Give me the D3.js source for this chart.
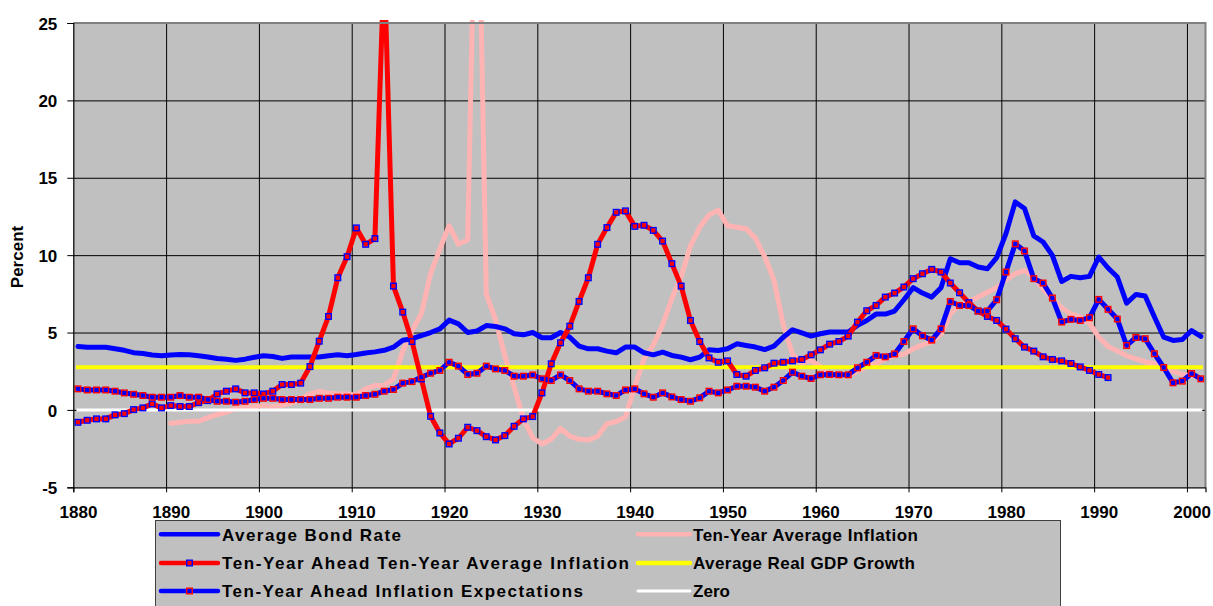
<!DOCTYPE html>
<html>
<head>
<meta charset="utf-8">
<script src="https://cdn.jsdelivr.net/npm/d3@7"></script>
<style>
  body { margin: 0; background: #fff; }
  svg text { font-family: "Liberation Sans", Arial, sans-serif; font-weight: bold; fill: #000; }
</style>
</head>
<body>
<svg width="1213" height="606"></svg>
<script>
/*
Data, one value per year (category axis, 1880 to 2001)
*/
var firstYear = 1880,
    lastYear = 2001;

var bondRate = [
  4.1, 4.05, 4.05, 4.05, 3.95, 3.85, 3.7, 3.65, 3.55, 3.5,
  3.55, 3.58, 3.56, 3.5, 3.42, 3.32, 3.28, 3.2, 3.28, 3.4,
  3.5, 3.45, 3.33, 3.42, 3.42, 3.42, 3.42, 3.5, 3.56, 3.5,
  3.58, 3.68, 3.75, 3.85, 4.05, 4.5, 4.6, 4.8, 5.0, 5.24,
  5.8, 5.56, 5.0, 5.1, 5.45, 5.39, 5.24, 4.92, 4.85, 5.0,
  4.66, 4.66, 5.0, 4.7, 4.12, 3.95, 3.95, 3.8, 3.69, 4.06,
  4.06, 3.69, 3.56, 3.73, 3.52, 3.41, 3.24, 3.41, 3.88, 3.84,
  3.95, 4.27, 4.16, 4.06, 3.9, 4.12, 4.7, 5.18, 4.98, 4.77,
  4.92, 5.03, 5.03, 5.03, 5.46, 5.78, 6.19, 6.19, 6.39, 7.12,
  7.9, 7.55, 7.29, 7.9, 9.77, 9.51, 9.51, 9.23, 9.12, 9.84,
  11.39, 13.44, 13.01, 11.24, 10.85, 9.99, 8.3, 8.63, 8.54, 8.63,
  9.88, 9.17, 8.59, 6.9, 7.46, 7.36, 6.0, 4.7, 4.49, 4.55,
  5.13, 4.75
];

// 1880 to 1991
var aheadInflation = [
  -0.8, -0.67, -0.58, -0.58, -0.32, -0.24, 0.02, 0.13, 0.39, 0.13,
  0.28, 0.22, 0.22, 0.47, 0.6, 1.03, 1.21, 1.36, 1.1, 1.1,
  1.03, 1.21, 1.64, 1.64, 1.73, 2.8, 4.44, 6.04, 8.54, 9.9,
  11.76, 10.7, 11.07, 29, 8.0, 6.32, 4.42, 2.0, -0.41, -1.49,
  -2.2, -1.83, -1.12, -1.34, -1.73, -1.94, -1.66, -1.06, -0.58, -0.43,
  1.1, 2.98, 4.34, 5.41, 7.01, 8.54, 10.7, 11.78, 12.77, 12.86,
  11.86, 11.93, 11.6, 10.91, 9.45, 8.0, 5.78, 4.42, 3.36, 3.08,
  3.17, 2.29, 2.18, 2.55, 2.72, 3.02, 3.08, 3.17, 3.26, 3.56,
  3.88, 4.25, 4.42, 4.77, 5.67, 6.41, 6.75, 7.29, 7.55, 7.94,
  8.48, 8.8, 9.08, 8.91, 8.2, 7.57, 6.93, 6.39, 6.04, 5.78,
  5.22, 4.6, 4.06, 3.8, 3.43, 3.26, 3.17, 3.0, 2.78, 2.55,
  2.29, 2.09
];

// 1880 to 2001
var expectations = [
  1.36, 1.29, 1.29, 1.29, 1.21, 1.1, 1.01, 0.93, 0.82, 0.82,
  0.82, 0.93, 0.82, 0.82, 0.67, 0.56, 0.56, 0.5, 0.56, 0.67,
  0.75, 0.75, 0.67, 0.67, 0.67, 0.67, 0.75, 0.75, 0.82, 0.82,
  0.82, 0.93, 1.01, 1.21, 1.32, 1.73, 1.83, 2.11, 2.37, 2.55,
  3.08, 2.83, 2.29, 2.37, 2.83, 2.65, 2.55, 2.18, 2.18, 2.26,
  2.01, 1.9, 2.26, 1.9, 1.36, 1.21, 1.21, 1.04, 0.93, 1.29,
  1.36, 1.04, 0.82, 1.1, 0.84, 0.67, 0.56, 0.78, 1.21, 1.1,
  1.29, 1.53, 1.53, 1.47, 1.21, 1.47, 1.9, 2.44, 2.18, 2.03,
  2.27, 2.29, 2.27, 2.27, 2.72, 3.08, 3.52, 3.43, 3.62, 4.42,
  5.24, 4.79, 4.51, 5.24, 7.01, 6.75, 6.75, 6.39, 6.39, 7.12,
  8.91, 10.73, 10.27, 8.48, 8.2, 7.23, 5.68, 5.85, 5.78, 5.96,
  7.14, 6.5, 5.87, 4.16, 4.68, 4.6, 3.63, 2.74, 1.75, 1.86,
  2.35, 2.01
];

// 1890 to 2001
var avgInflationStart = 1890;
var avgInflation = [
  -0.86, -0.8, -0.73, -0.73, -0.5, -0.3, -0.15, 0.1, 0.15, 0.2,
  0.28, 0.2, 0.3, 0.45, 0.7, 1.03, 1.2, 1.1, 1.03, 1.03,
  0.95, 1.36, 1.57, 1.6, 2.0, 3.8, 5.13, 6.2, 8.8, 10.4,
  11.9, 10.7, 11.0, 40, 7.5, 5.8, 3.5, 1.5, -0.6, -1.8,
  -2.2, -1.9, -1.2, -1.7, -1.9, -1.95, -1.7, -0.9, -0.75, -0.45,
  1.5, 3.3, 4.2, 5.5, 7.2, 8.6, 10.6, 11.8, 12.6, 12.9,
  11.9, 11.8, 11.7, 11.1, 9.9, 8.4, 5.5, 3.6, 3.0, 3.2,
  2.8, 2.2, 2.2, 2.2, 2.5, 2.8, 3.0, 3.3, 3.5, 3.6,
  3.95, 4.2, 4.4, 4.9, 6.2, 6.8, 7.0, 7.3, 7.6, 7.9,
  8.4, 8.8, 9.0, 8.6, 7.8, 7.2, 6.6, 6.2, 6.0, 5.6,
  4.7, 4.1, 3.8, 3.5, 3.3, 3.1, 3.0, 2.8, 2.5, 2.3,
  2.2, 2.1
];

var gdpGrowth = 2.76,
    zeroLevel = 0;

var xTicks = [1880, 1890, 1900, 1910, 1920, 1930, 1940, 1950, 1960, 1970, 1980, 1990, 2000],
    yTicks = [-5, 0, 5, 10, 15, 20, 25];

/*
Turn a value array into {year, v} points
*/
function toPoints(start, values) {
  return values.map(function(v, i) { return {year: start + i, v: v}; });
}

/*
SVG / plot area
*/
var svg = d3.select("svg"),
    plot = {left: 73.3, right: 1205.5, top: 23, bottom: 487.3};

var xScale = d3.scaleLinear().domain([firstYear, lastYear + 1]).range([plot.left, plot.right]),
    yScale = d3.scaleLinear().domain([-5, 25]).range([plot.bottom, plot.top]);

// points sit in the middle of each year category
function px(year) { return xScale(year + 0.5); }

var line = d3.line()
    .x(function(d) { return px(d.year); })
    .y(function(d) { return yScale(d.v); });

svg.append("defs").append("clipPath")
    .attr("id", "clip")
  .append("rect")
    .attr("x", plot.left)
    .attr("y", plot.top - 3)
    .attr("width", plot.right - plot.left)
    .attr("height", plot.bottom - plot.top + 3);

svg.append("rect")
    .attr("x", plot.left)
    .attr("y", plot.top)
    .attr("width", plot.right - plot.left)
    .attr("height", plot.bottom - plot.top)
    .attr("fill", "#c0c0c0");

// gridlines
svg.append("g")
    .attr("class", "grid grid-y")
    .attr("transform", "translate(" + plot.left + ",0)")
    .call(d3.axisLeft(yScale).tickValues(yTicks.slice(1, -1))
        .tickSize(-(plot.right - plot.left)).tickFormat(""))
    .call(function(g) { g.select(".domain").remove(); })
    .selectAll("line").attr("stroke", "#000").attr("stroke-width", 1);

svg.append("g")
    .attr("class", "grid grid-x")
    .attr("transform", "translate(0," + plot.bottom + ")")
    .call(d3.axisBottom(xScale).tickValues(xTicks.slice(1))
        .tickSize(-(plot.bottom - plot.top)).tickFormat(""))
    .call(function(g) { g.select(".domain").remove(); })
    .selectAll("line").attr("stroke", "#000").attr("stroke-width", 1);

/*
Series
*/
var series = svg.append("g").attr("clip-path", "url(#clip)");

function drawLine(points, color, width, cap) {
  series.append("path")
      .datum(points)
      .attr("fill", "none")
      .attr("stroke", color)
      .attr("stroke-width", width)
      .attr("stroke-linejoin", "round")
      .attr("stroke-linecap", cap || "round")
      .attr("d", line);
}

function drawMarkers(points, color) {
  series.append("g")
    .selectAll("rect")
    .data(points)
    .enter().append("rect")
      .attr("x", function(d) { return px(d.year) - 2.8; })
      .attr("y", function(d) { return yScale(d.v) - 2.8; })
      .attr("width", 5.6)
      .attr("height", 5.6)
      .attr("fill", "none")
      .attr("stroke", color)
      .attr("stroke-width", 1.4);
}

var flat = function(v) { return [{year: firstYear, v: v}, {year: lastYear, v: v}]; };

drawLine(toPoints(avgInflationStart, avgInflation), "#ffb3b3", 5);
drawLine(flat(gdpGrowth), "#ffff00", 4, "square");
drawLine(flat(zeroLevel), "#ffffff", 3, "square");
drawLine(toPoints(firstYear, bondRate), "#0000ff", 5);
drawLine(toPoints(firstYear, aheadInflation), "#ff0000", 5);
drawMarkers(toPoints(firstYear, aheadInflation), "#0000ff");
drawLine(toPoints(firstYear, expectations), "#0000ff", 5);
drawMarkers(toPoints(firstYear, expectations), "#ff0000");

// plot border top / right
svg.append("path")
    .attr("d", "M" + plot.left + "," + plot.top + "H" + plot.right + "V" + plot.bottom)
    .attr("fill", "none")
    .attr("stroke", "#808080")
    .attr("stroke-width", 2);

/*
Axes
*/
var yAxis = svg.append("g")
    .attr("class", "axis axis--y")
    .attr("transform", "translate(" + plot.left + ",0)")
    .call(d3.axisLeft(yScale).tickValues(yTicks).tickSize(6).tickPadding(10)
        .tickFormat(function(d) { return String(d); }));

var xAxis = svg.append("g")
    .attr("class", "axis axis--x")
    .attr("transform", "translate(0," + plot.bottom + ")")
    .call(d3.axisBottom(xScale).tickValues(xTicks).tickSize(5)
        .tickFormat(function(d) { return String(d); }));

svg.selectAll(".axis .domain").attr("stroke", "#000").attr("stroke-width", 1.2);
svg.selectAll(".axis line").attr("stroke", "#000");
svg.selectAll(".axis text").style("font-size", "17px").attr("font-family", null);
yAxis.selectAll("text").attr("dy", "0.36em");
xAxis.selectAll("text")
    .attr("x", px(firstYear) - xScale(firstYear))
    .attr("y", 19)
    .attr("dy", "0.71em");

svg.append("text")
    .attr("transform", "translate(23,257)rotate(-90)")
    .attr("text-anchor", "middle")
    .style("font-size", "17px")
    .text("Percent");

/*
Legend
*/
var legendItems = [
  {label: "Average Bond Rate", color: "#0000ff", marker: null, col: 0, row: 0, w: 179},
  {label: "Ten-Year Ahead Ten-Year Average Inflation", color: "#ff0000", marker: "#0000ff", col: 0, row: 1, w: 407},
  {label: "Ten-Year Ahead Inflation Expectations", color: "#0000ff", marker: "#ff0000", col: 0, row: 2, w: 361},
  {label: "Ten-Year Average Inflation", color: "#ffb3b3", marker: null, col: 1, row: 0, w: 225},
  {label: "Average Real GDP Growth", color: "#ffff00", marker: null, col: 1, row: 1, w: 222},
  {label: "Zero", color: "#ffffff", marker: null, col: 1, row: 2, w: 37}
];
var colX = [{x0: 161, x1: 218, tx: 222}, {x0: 638, x1: 690, tx: 693}],
    rowY = [534.3, 563, 591];

var legend = svg.append("g").attr("class", "legend");
legend.append("rect")
    .attr("x", 155.5)
    .attr("y", 520.5)
    .attr("width", 905)
    .attr("height", 120)
    .attr("fill", "#c0c0c0")
    .attr("stroke", "#404040")
    .attr("stroke-width", 1);

var item = legend.selectAll(".item")
    .data(legendItems)
    .enter().append("g")
    .attr("class", "item");

item.append("line")
    .attr("x1", function(d) { return colX[d.col].x0; })
    .attr("x2", function(d) { return colX[d.col].x1; })
    .attr("y1", function(d) { return rowY[d.row]; })
    .attr("y2", function(d) { return rowY[d.row]; })
    .attr("stroke", function(d) { return d.color; })
    .attr("stroke-width", function(d) { return d.color === "#ffffff" ? 3 : 4.5; })
    .attr("stroke-linecap", "round");

item.filter(function(d) { return d.marker; })
  .append("rect")
    .attr("x", function(d) { return (colX[d.col].x0 + colX[d.col].x1) / 2 - 2.8; })
    .attr("y", function(d) { return rowY[d.row] - 2.8; })
    .attr("width", 5.6)
    .attr("height", 5.6)
    .attr("fill", "none")
    .attr("stroke", function(d) { return d.marker; })
    .attr("stroke-width", 1.4);

item.append("text")
    .attr("x", function(d) { return colX[d.col].tx; })
    .attr("y", function(d) { return rowY[d.row] + 6.2; })
    .attr("textLength", function(d) { return d.w; })
    .attr("lengthAdjust", "spacing")
    .style("font-size", "17px")
    .text(function(d) { return d.label; });
</script>
</body>
</html>
